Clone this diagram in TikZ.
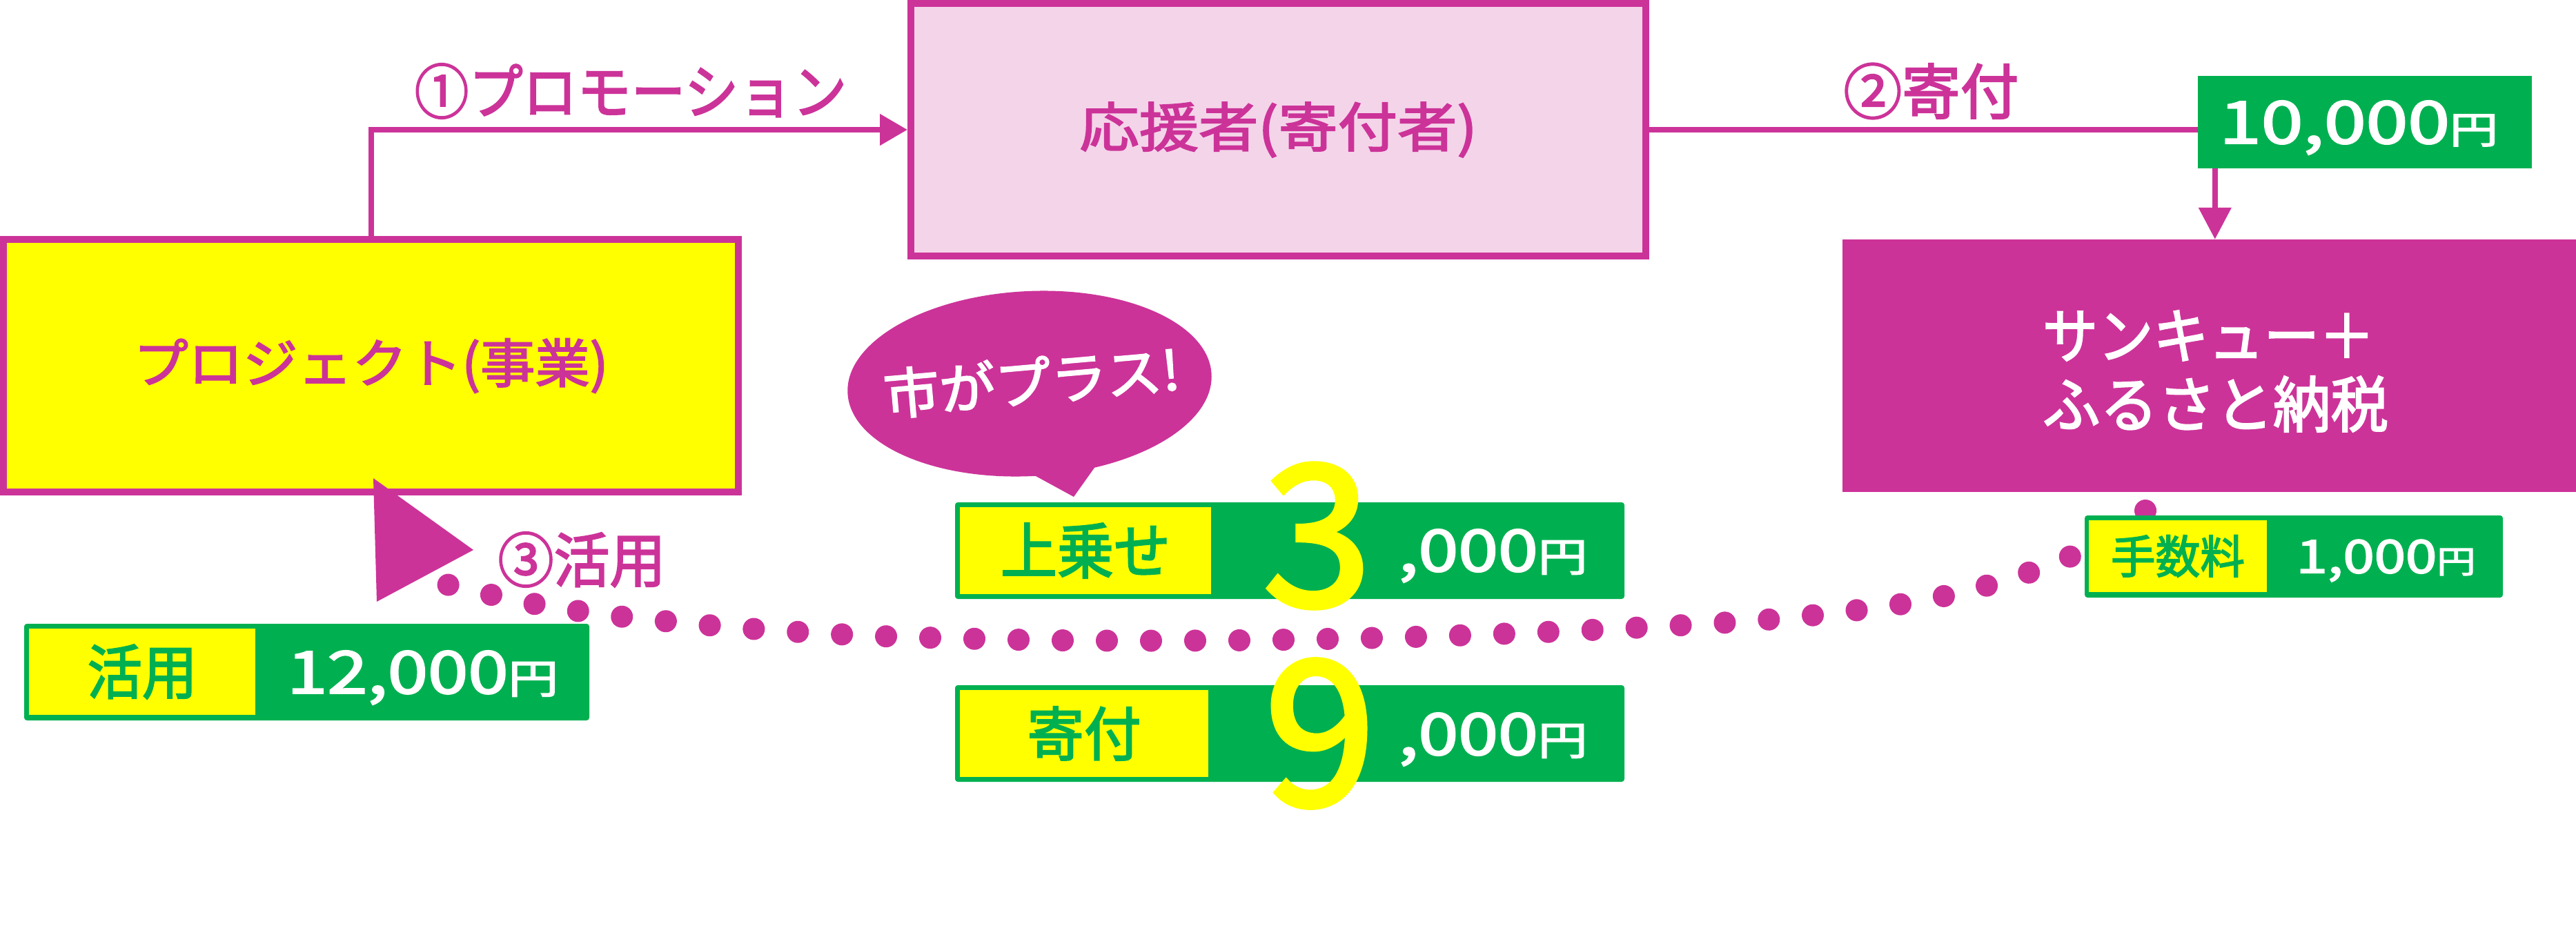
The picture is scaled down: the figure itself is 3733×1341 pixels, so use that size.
\documentclass[tikz,border=0pt]{standalone}
\usepackage{fontspec}
\setmainfont{Noto Sans CJK JP}[RawFeature={embolden=2.5}]
\usepackage{graphicx}
\usetikzlibrary{arrows.meta,shapes.geometric}
\definecolor{mg}{HTML}{CC3399}
\definecolor{pk}{HTML}{F4D4E9}
\definecolor{gr}{HTML}{00B050}
\definecolor{yl}{HTML}{FFFF00}
\newcommand{\fitT}[3]{\resizebox*{#1pt}{#2pt}{#3}}
\newcommand{\fitH}[2]{\resizebox*{!}{#1pt}{#2}}
\newcommand{\valtxt}[2]{{\fontsize{100pt}{100pt}\selectfont #1\fontsize{#2pt}{#2pt}\selectfont 円}}
\begin{document}
\begin{tikzpicture}[x=1pt,y=-1pt,
  conn/.style={draw=mg,line width=8pt},
  dotline/.style={draw=mg,line width=32pt,line cap=round,dash pattern=on 0.01pt off 63.99pt},
  bigbox/.style={line width=10pt,draw=mg,minimum width=1065pt,minimum height=366pt,inner sep=0pt},
  greenbox/.style={fill=gr,rounded corners=4pt,inner sep=0pt},
  yellowbox/.style={fill=yl,inner sep=0pt,text=gr},
  plain/.style={inner sep=0pt}]
\useasboundingbox (0,0) rectangle (3733,1341);

% main boxes
\node[bigbox,fill=yl,text=mg] (project) at (537.5,530) {\fitT{688}{79}{プロジェクト(事業)}};
\node[bigbox,fill=pk,text=mg] (supporter) at (1852.5,188) {\fitT{576}{80}{応援者(寄付者)}};
\node[fill=mg,minimum width=1063pt,minimum height=366pt,inner sep=0pt] (thanks) at (3201.5,530) {};
\node[plain,text=white] (thanksA) at (3200.5,486.5) {\fitT{481}{73}{サンキュー＋}};
\node[plain,text=white] (thanksB) at (3210.5,585.5) {\fitT{501}{81}{ふるさと納税}};

% donation amount box
\node[fill=gr,minimum width=484pt,minimum height=134pt,inner sep=0pt] (g10) at (3427,177) {};
\node[plain,text=white] (v10) at (3418,185) {\fitT{404}{78}{\valtxt{10,000}{64}}};

% connectors
\draw[conn,-{Triangle[length=40pt,width=44pt]}] (project.north) |- (supporter.west);
\node[plain,text=mg] (lab1) at (914,132) {\fitT{626}{80}{①プロモーション}};
\draw[conn] (supporter.east) -- (supporter.east -| g10.west);
\node[plain,text=mg] (lab2) at (2798.5,132) {\fitT{254}{81}{②寄付}};
\coordinate (a10) at ([xshift=25pt]g10.south west);
\draw[conn,-{Triangle[length=46pt,width=46pt]}] (a10) -- (a10 |- thanks.north);

% speech bubble
\node[ellipse,fill=mg,minimum width=528pt,minimum height=268pt,inner sep=0pt,rotate=3] (bubble) at (1492,556) {};
\fill[mg] (1490,684) -- (1556,720) -- (1593,668) -- cycle;
\node[plain,text=white,rotate=5] (bubbletxt) at (1495,553) {\fitT{430}{73}{市がプラス!}};

% dotted connector
\coordinate (dS) at (3109,740);
\coordinate (dE) at (643,846);
\draw[dotline] plot[smooth] coordinates {(dS) (2999,807) (2878,849) (2752,876) (2561,898) (2305,913) (2048,923) (1792,928) (1536,928) (1279,922) (1086,911) (895,893) (768,874) (dE)};
\fill[mg] (541,693) -- (686,797) -- (546,872) -- cycle;
\node[plain,text=mg] (lab3) at (843,811) {\fitT{243}{80}{③活用}};

% value boxes
\node[greenbox,minimum width=970pt,minimum height=140pt] (plusbox) at (1869,798) {};
\node[yellowbox,minimum width=364pt,minimum height=126pt] (pluslab) at (1573,798) {\fitT{246}{80}{上乗せ}};
\node[plain,text=yl] (three) at (1909,776.5) {\fitH{209}{3}};
\node[plain,text=white] (plusval) at (2163.5,805.5) {\fitT{274}{77}{\valtxt{,000}{69}}};

\node[greenbox,minimum width=970pt,minimum height=140pt] (donbox) at (1869,1063) {};
\node[yellowbox,minimum width=360pt,minimum height=126pt] (donlab) at (1571,1063) {\fitT{165}{78}{寄付}};
\node[plain,text=yl] (nine) at (1913,1063) {\fitH{214}{9}};
\node[plain,text=white] (donval) at (2163.5,1071.5) {\fitT{274}{77}{\valtxt{,000}{69}}};

\node[greenbox,minimum width=819pt,minimum height=140pt] (usebox) at (444.5,974) {};
\node[yellowbox,minimum width=328pt,minimum height=125pt] (uselab) at (206,973.5) {\fitT{159}{79}{活用}};
\node[plain,text=white] (useval) at (612.5,982) {\fitT{393}{78}{\valtxt{12,000}{69}}};

\node[greenbox,minimum width=606pt,minimum height=119pt] (feebox) at (3324,806.5) {};
\node[yellowbox,minimum width=258pt,minimum height=104pt] (feelab) at (3156,806) {\fitT{194}{61}{手数料}};
\node[plain,text=white] (feeval) at (3457.5,812.5) {\fitT{260}{61}{\valtxt{1,000}{69}}};
\end{tikzpicture}
\end{document}
